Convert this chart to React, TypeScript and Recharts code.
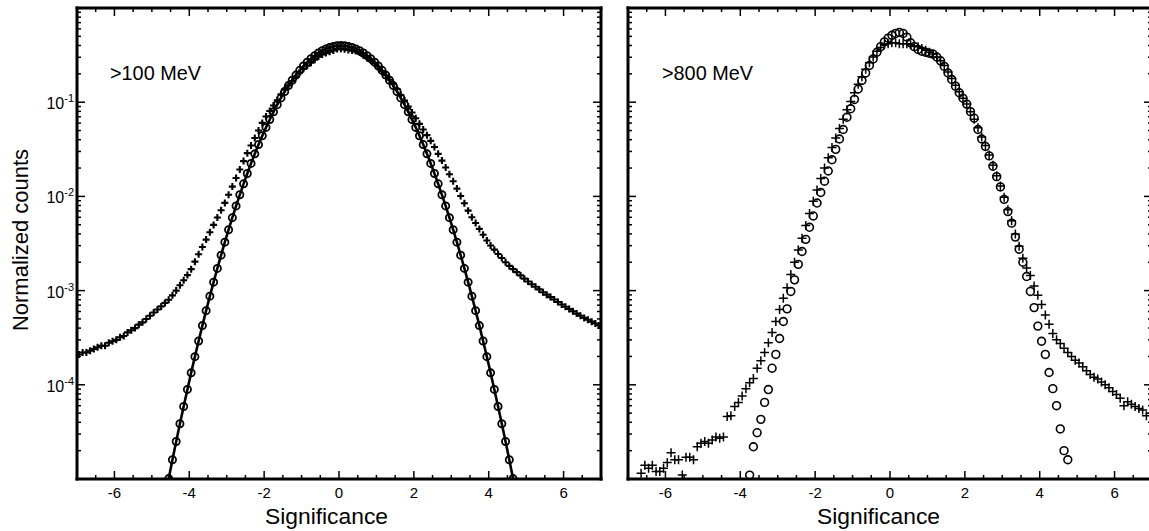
import { LineChart, Line, XAxis, YAxis } from 'recharts'

// histogram bin centres (0.1 wide, -7 .. 7)
const BINS = [
  -6.95, -6.85, -6.75, -6.65, -6.55, -6.45, -6.35, -6.25, -6.15, -6.05,
  -5.95, -5.85, -5.75, -5.65, -5.55, -5.45, -5.35, -5.25, -5.15, -5.05,
  -4.95, -4.85, -4.75, -4.65, -4.55, -4.45, -4.35, -4.25, -4.15, -4.05,
  -3.95, -3.85, -3.75, -3.65, -3.55, -3.45, -3.35, -3.25, -3.15, -3.05,
  -2.95, -2.85, -2.75, -2.65, -2.55, -2.45, -2.35, -2.25, -2.15, -2.05,
  -1.95, -1.85, -1.75, -1.65, -1.55, -1.45, -1.35, -1.25, -1.15, -1.05,
  -0.95, -0.85, -0.75, -0.65, -0.55, -0.45, -0.35, -0.25, -0.15, -0.05,
  0.05, 0.15, 0.25, 0.35, 0.45, 0.55, 0.65, 0.75, 0.85, 0.95,
  1.05, 1.15, 1.25, 1.35, 1.45, 1.55, 1.65, 1.75, 1.85, 1.95,
  2.05, 2.15, 2.25, 2.35, 2.45, 2.55, 2.65, 2.75, 2.85, 2.95,
  3.05, 3.15, 3.25, 3.35, 3.45, 3.55, 3.65, 3.75, 3.85, 3.95,
  4.05, 4.15, 4.25, 4.35, 4.45, 4.55, 4.65, 4.75, 4.85, 4.95,
  5.05, 5.15, 5.25, 5.35, 5.45, 5.55, 5.65, 5.75, 5.85, 5.95,
  6.05, 6.15, 6.25, 6.35, 6.45, 6.55, 6.65, 6.75, 6.85, 6.95,
]

// >100 MeV, crosses
const LEFT_PLUS = [
  2.1e-4, 2.2e-4, 2.2e-4, 2.3e-4, 2.4e-4, 2.5e-4, 2.6e-4, 2.6e-4, 2.8e-4, 2.9e-4,
  3.0e-4, 3.2e-4, 3.3e-4, 3.6e-4, 3.8e-4, 4.0e-4, 4.35e-4, 4.6e-4, 5.0e-4, 5.4e-4,
  5.85e-4, 6.3e-4, 6.8e-4, 7.4e-4, 8.0e-4, 8.9e-4, 1.0e-3, 1.14e-3, 1.29e-3, 1.46e-3,
  1.69e-3, 2.03e-3, 2.43e-3, 2.9e-3, 3.48e-3, 4.16e-3, 4.98e-3, 5.96e-3, 7.13e-3, 8.53e-3,
  0.0104, 0.0127, 0.0157, 0.0193, 0.0237, 0.0288, 0.0347, 0.0417, 0.0501, 0.0603,
  0.0706, 0.0807, 0.0923, 0.105, 0.121, 0.136, 0.151, 0.168, 0.187, 0.208,
  0.227, 0.244, 0.263, 0.283, 0.305, 0.321, 0.332, 0.343, 0.354, 0.366,
  0.369, 0.364, 0.359, 0.354, 0.349, 0.336, 0.315, 0.295, 0.277, 0.259,
  0.238, 0.214, 0.193, 0.173, 0.156, 0.138, 0.119, 0.104, 0.0897, 0.0778,
  0.0676, 0.0589, 0.0513, 0.0447, 0.0389, 0.0334, 0.0283, 0.024, 0.0203, 0.0172,
  0.0145, 0.0121, 0.0101, 8.45e-3, 7.06e-3, 6.01e-3, 5.21e-3, 4.52e-3, 3.92e-3, 3.4e-3,
  3.01e-3, 2.72e-3, 2.45e-3, 2.22e-3, 2.0e-3, 1.83e-3, 1.69e-3, 1.57e-3, 1.45e-3, 1.34e-3,
  1.25e-3, 1.17e-3, 1.1e-3, 1.03e-3, 9.6e-4, 9.06e-4, 8.53e-4, 8.04e-4, 7.57e-4, 7.13e-4,
  6.73e-4, 6.37e-4, 6.03e-4, 5.7e-4, 5.4e-4, 5.13e-4, 4.9e-4, 4.68e-4, 4.47e-4, 4.27e-4,
]

// >100 MeV, circles (with the fitted curve through them)
const LEFT_CIRCLE = [
  null, null, null, null, null, null, null, null, null, null,
  null, null, null, null, null, null, null, null, null, null,
  null, null, 3.96e-6, 6.37e-6, 1.01e-5, 1.6e-5, 2.5e-5, 3.86e-5, 5.89e-5, 8.93e-5,
  1.34e-4, 1.99e-4, 2.92e-4, 4.25e-4, 6.12e-4, 8.73e-4, 1.23e-3, 1.72e-3, 2.38e-3, 3.27e-3,
  4.43e-3, 5.95e-3, 7.92e-3, 0.0104, 0.0136, 0.0175, 0.0224, 0.0283, 0.0355, 0.044,
  0.054, 0.0656, 0.079, 0.0941, 0.111, 0.13, 0.15, 0.171, 0.194, 0.218,
  0.242, 0.266, 0.29, 0.312, 0.333, 0.352, 0.368, 0.381, 0.391, 0.397,
  0.399, 0.397, 0.391, 0.381, 0.368, 0.352, 0.333, 0.312, 0.29, 0.266,
  0.242, 0.218, 0.194, 0.171, 0.15, 0.13, 0.111, 0.0941, 0.079, 0.0656,
  0.054, 0.044, 0.0355, 0.0283, 0.0224, 0.0175, 0.0136, 0.0104, 7.92e-3, 5.95e-3,
  4.43e-3, 3.27e-3, 2.38e-3, 1.72e-3, 1.23e-3, 8.73e-4, 6.12e-4, 4.25e-4, 2.92e-4, 1.99e-4,
  1.34e-4, 8.93e-5, 5.89e-5, 3.86e-5, 2.5e-5, 1.6e-5, 1.01e-5, 6.37e-6, 3.96e-6, null,
  null, null, null, null, null, null, null, null, null, null,
  null, null, null, null, null, null, null, null, null, null,
]

// >800 MeV, crosses
const RIGHT_PLUS = [
  null, null, null, 1.15e-5, 1.4e-5, 1.3e-5, 1.4e-5, 1.2e-5, 1.2e-5, 1.3e-5,
  1.5e-5, 1.9e-5, 1.6e-5, 1.6e-5, 1.1e-5, 1.7e-5, 1.7e-5, 1.6e-5, 2.2e-5, 2.4e-5,
  2.5e-5, 2.4e-5, 2.6e-5, 2.8e-5, 2.7e-5, 2.8e-5, 4.6e-5, 4.7e-5, 5.9e-5, 6.5e-5,
  7.6e-5, 9.1e-5, 1.05e-4, 1.17e-4, 1.5e-4, 1.8e-4, 2.2e-4, 2.8e-4, 3.6e-4, 4.7e-4,
  6.3e-4, 8.3e-4, 1.07e-3, 1.48e-3, 2.0e-3, 2.7e-3, 3.6e-3, 4.9e-3, 6.6e-3, 8.9e-3,
  0.0117, 0.0155, 0.02, 0.0257, 0.0331, 0.0417, 0.0525, 0.0661, 0.0832, 0.102,
  0.126, 0.155, 0.186, 0.224, 0.263, 0.302, 0.347, 0.38, 0.407, 0.417,
  0.427, 0.427, 0.417, 0.417, 0.417, 0.407, 0.398, 0.389, 0.372, 0.355,
  0.339, 0.324, 0.302, 0.275, 0.245, 0.209, 0.178, 0.151, 0.129, 0.11,
  0.0955, 0.0794, 0.0661, 0.0537, 0.0427, 0.0347, 0.0275, 0.0214, 0.0166, 0.0129,
  9.8e-3, 7.2e-3, 5.5e-3, 4.0e-3, 2.95e-3, 2.2e-3, 1.74e-3, 1.45e-3, 1.12e-3, 8.9e-4,
  7.1e-4, 5.5e-4, 4.4e-4, 3.5e-4, 3.0e-4, 2.75e-4, 2.45e-4, 2.2e-4, 2.0e-4, 1.82e-4,
  1.7e-4, 1.55e-4, 1.41e-4, 1.29e-4, 1.2e-4, 1.15e-4, 1.07e-4, 1.0e-4, 9.3e-5, 8.5e-5,
  7.9e-5, 7.2e-5, 6.0e-5, 6.6e-5, 6.2e-5, 5.9e-5, 5.6e-5, 5.4e-5, 4.7e-5, 5.0e-5,
]

// >800 MeV, circles
const RIGHT_CIRCLE = [
  null, null, null, null, null, null, null, null, null, null,
  null, null, null, null, null, null, null, null, null, null,
  null, null, null, null, null, null, null, null, null, null,
  null, null, 1.1e-5, 2.2e-5, 3.1e-5, 4.3e-5, 6.5e-5, 8.9e-5, 1.5e-4, 2.1e-4,
  3.1e-4, 4.7e-4, 6.4e-4, 9.8e-4, 1.3e-3, 1.9e-3, 2.6e-3, 3.5e-3, 4.7e-3, 6.2e-3,
  8.5e-3, 0.011, 0.0145, 0.0186, 0.0245, 0.0316, 0.0407, 0.0513, 0.0692, 0.0851,
  0.107, 0.138, 0.17, 0.204, 0.245, 0.288, 0.339, 0.389, 0.437, 0.479,
  0.513, 0.537, 0.55, 0.537, 0.49, 0.427, 0.389, 0.363, 0.347, 0.339,
  0.331, 0.324, 0.302, 0.275, 0.24, 0.204, 0.174, 0.148, 0.126, 0.11,
  0.0955, 0.0794, 0.0676, 0.0513, 0.0407, 0.0339, 0.0269, 0.0209, 0.0162, 0.0126,
  9.3e-3, 6.9e-3, 5.2e-3, 3.7e-3, 2.75e-3, 2.0e-3, 1.41e-3, 9.8e-4, 6.6e-4, 4.2e-4,
  2.9e-4, 2.1e-4, 1.35e-4, 9.1e-5, 6.0e-5, 3.4e-5, 2.0e-5, 1.6e-5, null, null,
  null, null, null, null, null, null, null, null, null, null,
  null, null, null, null, null, null, null, null, null, null,
]

const X_TICKS = [-6.5, -6, -5.5, -5, -4.5, -4, -3.5, -3, -2.5, -2, -1.5, -1, -0.5, 0, 0.5, 1, 1.5, 2, 2.5, 3, 3.5, 4, 4.5, 5, 5.5, 6, 6.5]
const X_MAJOR = [-6, -4, -2, 0, 2, 4, 6]
const Y_TICKS = [
  2e-5, 3e-5, 4e-5, 5e-5, 6e-5, 7e-5, 8e-5, 9e-5,
  1e-4, 2e-4, 3e-4, 4e-4, 5e-4, 6e-4, 7e-4, 8e-4, 9e-4,
  1e-3, 2e-3, 3e-3, 4e-3, 5e-3, 6e-3, 7e-3, 8e-3, 9e-3,
  1e-2, 2e-2, 3e-2, 4e-2, 5e-2, 6e-2, 7e-2, 8e-2, 9e-2,
  1e-1, 2e-1, 3e-1, 4e-1, 5e-1, 6e-1, 7e-1, 8e-1, 9e-1,
]
const Y_MAJOR = [1e-4, 1e-3, 1e-2, 1e-1]
const Y_EXP = ['-4', '-3', '-2', '-1']

const FONT = '"Liberation Sans", Arial, Helvetica, sans-serif'

const points = (ys: (number | null)[]) =>
  BINS.map((x, i) => ({ x, y: ys[i] })).filter((p) => p.y != null)

function BottomTick({ x, y, payload, showLabel }: any) {
  const major = X_MAJOR.includes(payload.value)
  return (
    <g>
      <line x1={x} x2={x} y1={y} y2={y - (major ? 8 : 4)} stroke="#000" strokeWidth={1.5} />
      {showLabel && major && (
        <text x={x} y={y + 18.5} textAnchor="middle" fontSize={15} fontFamily={FONT} fill="#000">
          {payload.value}
        </text>
      )}
    </g>
  )
}

function TopTick({ x, y, payload }: any) {
  const major = X_MAJOR.includes(payload.value)
  return <line x1={x} x2={x} y1={y} y2={y + (major ? 8 : 4)} stroke="#000" strokeWidth={1.5} />
}

function LeftTick({ x, y, payload, showLabel }: any) {
  const k = Y_MAJOR.indexOf(payload.value)
  return (
    <g>
      <line x1={x} x2={x + (k >= 0 ? 8 : 4)} y1={y} y2={y} stroke="#000" strokeWidth={1.5} />
      {showLabel && k >= 0 && (
        <text x={x - 3} y={y + 7} textAnchor="end" fontSize={16} fontFamily={FONT} fill="#000">
          <tspan>10</tspan>
          <tspan dy={-7} fontSize={11}>{Y_EXP[k]}</tspan>
        </text>
      )}
    </g>
  )
}

function RightTick({ x, y, payload }: any) {
  const major = Y_MAJOR.includes(payload.value)
  return <line x1={x} x2={x - (major ? 8 : 4)} y1={y} y2={y} stroke="#000" strokeWidth={1.5} />
}

const plusDot = (arm: number, w: number) => (p: any) => {
  if (p.cx == null || p.cy == null) return <g key={`p${p.index}`} />
  return (
    <path
      key={`p${p.index}`}
      d={`M${p.cx - arm},${p.cy}H${p.cx + arm}M${p.cx},${p.cy - arm}V${p.cy + arm}`}
      stroke="#000"
      strokeWidth={w}
      fill="none"
    />
  )
}

const circleDot = (r: number, w: number) => (p: any) => {
  if (p.cx == null || p.cy == null) return <g key={`c${p.index}`} />
  return <circle key={`c${p.index}`} cx={p.cx} cy={p.cy} r={r} stroke="#000" strokeWidth={w} fill="none" />
}

const frame = { stroke: '#000', strokeWidth: 3, strokeLinecap: 'square' as const }

interface PanelProps {
  left: number
  width: number
  yWidth: number
  rightMargin: number
  showYLabels: boolean
  plus: (number | null)[]
  circle: (number | null)[]
  fit: boolean
  plusArm: number
  plusWidth: number
  circleR: number
  circleW: number
}

function Panel(p: PanelProps) {
  return (
    <div style={{ position: 'absolute', left: p.left, top: 0 }}>
      <LineChart width={p.width} height={531} margin={{ top: 7, right: p.rightMargin, bottom: 0, left: 0 }}>
        <XAxis
          xAxisId="b" type="number" dataKey="x" domain={[-7, 7]} allowDataOverflow
          ticks={X_TICKS} interval={0} height={52} tickSize={0} tickMargin={0} tickLine={false}
          axisLine={frame} tick={<BottomTick showLabel />}
        />
        <XAxis
          xAxisId="t" orientation="top" type="number" dataKey="x" domain={[-7, 7]} allowDataOverflow
          ticks={X_TICKS} interval={0} height={1} tickSize={0} tickMargin={0} tickLine={false}
          axisLine={frame} tick={<TopTick />}
        />
        <YAxis
          yAxisId="l" scale="log" type="number" domain={[1e-5, 1]} allowDataOverflow
          ticks={Y_TICKS} interval={0} width={p.yWidth} tickSize={0} tickMargin={0} tickLine={false}
          axisLine={frame} tick={<LeftTick showLabel={p.showYLabels} />}
        />
        <YAxis
          yAxisId="r" orientation="right" scale="log" type="number" domain={[1e-5, 1]} allowDataOverflow
          ticks={Y_TICKS} interval={0} width={1} tickSize={0} tickMargin={0} tickLine={false}
          axisLine={frame} tick={<RightTick />}
        />
        <Line
          xAxisId="b" yAxisId="l" data={points(p.plus)} dataKey="y" stroke="none"
          dot={plusDot(p.plusArm, p.plusWidth)} activeDot={false} isAnimationActive={false}
        />
        <Line
          xAxisId="b" yAxisId="l" data={points(p.circle)} dataKey="y"
          stroke={p.fit ? '#000' : 'none'} strokeWidth={2.6}
          dot={circleDot(p.circleR, p.circleW)} activeDot={false} isAnimationActive={false}
        />
      </LineChart>
    </div>
  )
}

export default function App() {
  return (
    <div style={{ position: 'relative', width: 1149, height: 531, overflow: 'hidden', background: '#fff' }}>
      <style>{'body{margin:0}'}</style>
      <Panel
        left={0} width={610} yWidth={77} rightMargin={8} showYLabels
        plus={LEFT_PLUS} circle={LEFT_CIRCLE} fit plusArm={3.5} plusWidth={2.1} circleR={3.6} circleW={1.8}
      />
      <Panel
        left={620} width={545} yWidth={8} rightMargin={12} showYLabels={false}
        plus={RIGHT_PLUS} circle={RIGHT_CIRCLE} fit={false} plusArm={4.5} plusWidth={1.5} circleR={3.9} circleW={1.6}
      />
      <svg
        width={1149} height={531}
        style={{ position: 'absolute', left: 0, top: 0, pointerEvents: 'none' }}
        fontFamily={FONT} fill="#000"
      >
        <text x={110} y={80} fontSize={20} textLength={91} lengthAdjust="spacingAndGlyphs">&gt;100 MeV</text>
        <text x={662} y={80} fontSize={20} textLength={91} lengthAdjust="spacingAndGlyphs">&gt;800 MeV</text>
        <text x={265} y={524} fontSize={22} textLength={123} lengthAdjust="spacingAndGlyphs">Significance</text>
        <text x={817} y={524} fontSize={22} textLength={123} lengthAdjust="spacingAndGlyphs">Significance</text>
        <text x={28} y={240} fontSize={22} textAnchor="middle" transform="rotate(-90 28 240)">Normalized counts</text>
      </svg>
    </div>
  )
}
